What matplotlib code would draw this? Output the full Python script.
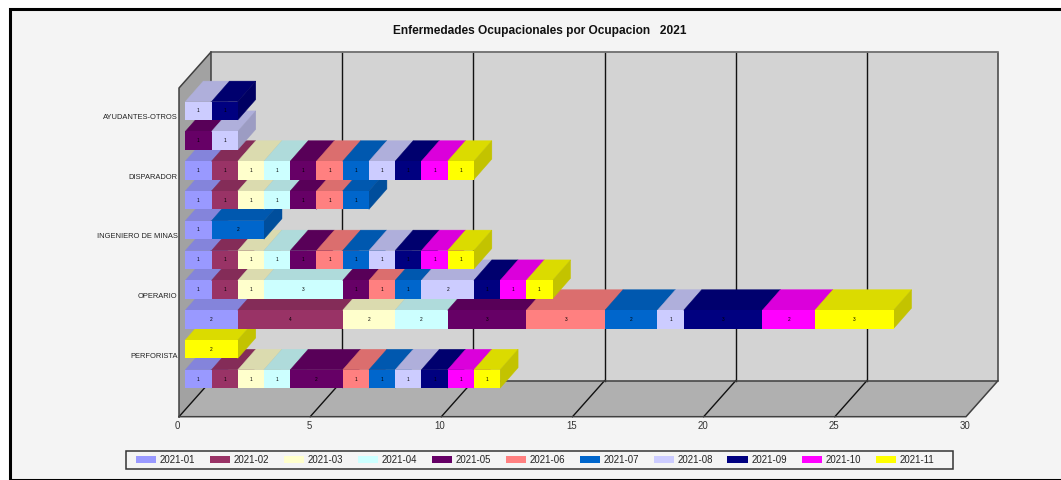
import matplotlib
matplotlib.use('Agg')
import matplotlib.pyplot as plt
from matplotlib.patches import Patch, Rectangle
from matplotlib.transforms import ScaledTranslation

plt.rcParams['font.family'] = ['Liberation Sans', 'DejaVu Sans']

months = ['2021-01', '2021-02', '2021-03', '2021-04', '2021-05', '2021-06',
          '2021-07', '2021-08', '2021-09', '2021-10', '2021-11']
colors = ['#9999FF', '#993366', '#FFFFCC', '#CCFFFF', '#660066', '#FF8080',
          '#0066CC', '#CCCCFF', '#000080', '#FF00FF', '#FFFF00']

occupations = ['AYUDANTES-OTROS', 'DISPARADOR', 'INGENIERO DE MINAS', 'OPERARIO', 'PERFORISTA']

# one row of values per bar, top to bottom, one column per month
row_01 = [0, 0, 0, 0, 0, 0, 0, 1, 1, 0, 0]
row_02 = [0, 0, 0, 0, 1, 0, 0, 1, 0, 0, 0]
row_03 = [1, 1, 1, 1, 1, 1, 1, 1, 1, 1, 1]
row_04 = [1, 1, 1, 1, 1, 1, 1, 0, 0, 0, 0]
row_05 = [1, 0, 0, 0, 0, 0, 2, 0, 0, 0, 0]
row_06 = [1, 1, 1, 1, 1, 1, 1, 1, 1, 1, 1]
row_07 = [1, 1, 1, 3, 1, 1, 1, 2, 1, 1, 1]
row_08 = [2, 4, 2, 2, 3, 3, 2, 1, 3, 2, 3]
row_09 = [0, 0, 0, 0, 0, 0, 0, 0, 0, 0, 2]
row_10 = [1, 1, 1, 1, 2, 1, 1, 1, 1, 1, 1]
rows = [row_01, row_02, row_03, row_04, row_05, row_06, row_07, row_08, row_09, row_10]

x_ticks = [0, 5, 10, 15, 20, 25, 30]

W, H = 1061, 480
fig = plt.figure(figsize=(W / 100, H / 100), dpi=100, facecolor='white')

# panel with the black frame, it runs off the right and bottom of the image
fig.patches.append(Rectangle((10 / W, 0), 1.0, 1 - 8.5 / H, transform=fig.transFigure,
                             facecolor='#F4F4F4', edgecolor='black', linewidth=2.2, zorder=-5))
# legend box is not centred on its entries, so it is drawn apart
fig.patches.append(Rectangle((125.7 / W, 1 - 469.3 / H), 827.3 / W, 18.6 / H, transform=fig.transFigure,
                             facecolor='#F4F4F4', edgecolor='#333333', linewidth=1.1, zorder=-4))

ax = fig.add_axes([179 / W, (H - 416.7) / H, 787 / W, 328.7 / H])
ax.set_xlim(0, 30)
ax.set_ylim(10.265, -0.765)
ax.patch.set_visible(False)
for s in ax.spines.values():
    s.set_visible(False)

# depth of the box and of the bars, in data units
box_dx, box_dy = 1.22, 1.208
bar_dx, bar_dy = 0.686, 0.688
bar_h = 0.617
bar_shift = 0.24
y_top, y_bot = -0.765, 10.265

# walls
ax.fill([0, box_dx, box_dx, 0], [y_bot, y_bot - box_dy, y_top - box_dy, y_top],
        color='#A2A2A2', lw=0, zorder=1, clip_on=False)
ax.fill([box_dx, 30 + box_dx, 30 + box_dx, box_dx],
        [y_top - box_dy, y_top - box_dy, y_bot - box_dy, y_bot - box_dy],
        color='#D3D3D3', lw=0, zorder=1, clip_on=False)
ax.fill([0, 30, 30 + box_dx, box_dx], [y_bot, y_bot, y_bot - box_dy, y_bot - box_dy],
        color='#B0B0B0', lw=0, zorder=1, clip_on=False)

for t in x_ticks[:-1]:
    ax.plot([t, t + box_dx], [y_bot, y_bot - box_dy], color='#111111', lw=1, zorder=2, clip_on=False)
    if t > 0:
        ax.plot([t + box_dx, t + box_dx], [y_bot - box_dy, y_top - box_dy],
                color='#111111', lw=1, zorder=2, clip_on=False)

edge = '#404040'
ax.plot([0, 0, box_dx, 30 + box_dx, 30 + box_dx, 30, 0],
        [y_bot, y_top, y_top - box_dy, y_top - box_dy, y_bot - box_dy, y_bot, y_bot],
        color=edge, lw=1.1, zorder=2, clip_on=False)
ax.plot([box_dx, 30 + box_dx], [y_top - box_dy, y_top - box_dy], color='#808080', lw=1.1, zorder=2, clip_on=False)
ax.plot([box_dx, box_dx, 30 + box_dx], [y_top - box_dy, y_bot - box_dy, y_bot - box_dy],
        color=edge, lw=1.1, zorder=2, clip_on=False)


def shade(hex_color, f):
    r, g, b = matplotlib.colors.to_rgb(hex_color)
    return (r * f, g * f, b * f)


# the lower rows are painted first, upper rows sit over them
z = 3
for i in range(len(rows) - 1, -1, -1):
    left = bar_shift
    top = i - bar_h / 2
    bot = i + bar_h / 2
    for j, v in enumerate(rows[i]):
        if v == 0:
            continue
        right = left + v
        ax.fill([left, left + bar_dx, right + bar_dx, right],
                [top, top - bar_dy, top - bar_dy, top],
                color=shade(colors[j], 0.86), lw=0.3, zorder=z, clip_on=False)
        ax.fill([right, right + bar_dx, right + bar_dx, right],
                [top, top - bar_dy, bot - bar_dy, bot],
                color=shade(colors[j], 0.765), lw=0.3, zorder=z, clip_on=False)
        ax.barh(i, v, height=bar_h, left=left, color=colors[j], linewidth=0, zorder=z + 0.1, clip_on=False)
        ax.text(left + v / 2, i, str(v), ha='center', va='center', fontsize=3.4,
                color='black', zorder=z + 0.2)
        left = right
        z += 1

ax.set_xticks(x_ticks)
ax.set_xticklabels([str(t) for t in x_ticks], fontsize=6.9, color='#333333')
ax.set_yticks([r + 0.2 for r in range(0, 10, 2)])
ax.set_yticklabels(occupations, fontsize=5.4, color='#222222')
ax.tick_params(axis='x', length=0, pad=3)
ax.tick_params(axis='y', length=0, pad=1)
for lab in ax.get_xticklabels():
    lab.set_transform(lab.get_transform() + ScaledTranslation(-0.012, 0, fig.dpi_scale_trans))

fig.text(539.5 / W, 1 - 31 / H, 'Enfermedades Ocupacionales por Ocupacion   2021', ha='center', va='center',
         fontsize=8.6, fontweight='bold', color='#111111')

handles = [Patch(facecolor=c, edgecolor='none', label=m) for c, m in zip(colors, months)]
fig.legend(handles=handles, loc='center', bbox_to_anchor=(535 / W, 1 - 460 / H), ncol=11,
           fontsize=6.9, frameon=False, handlelength=2.09, handleheight=0.73, handletextpad=0.42,
           columnspacing=1.51, borderaxespad=0, borderpad=0, labelcolor='#222222')

fig.savefig('out.png', dpi=100)
